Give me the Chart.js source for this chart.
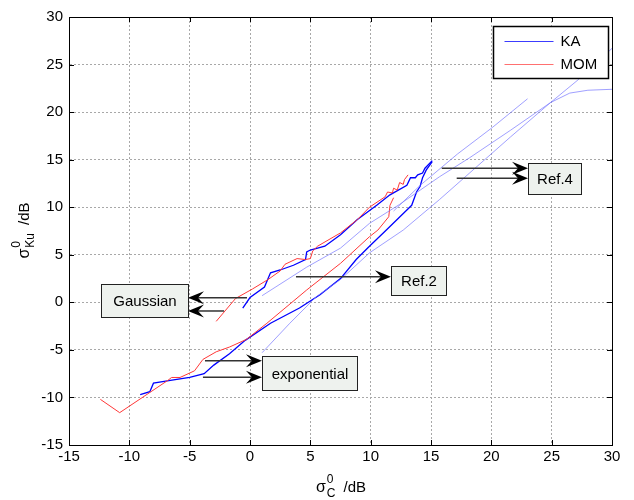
<!DOCTYPE html>
<html>
<head>
<meta charset="utf-8">
<script src="https://cdn.jsdelivr.net/npm/chart.js@4.4.0/dist/chart.umd.min.js"></script>
<style>
  html, body { margin: 0; padding: 0; background: #fff; }
  #wrap { width: 634px; height: 500px; }
</style>
</head>
<body>
<div id="wrap"><canvas id="chart" width="634" height="500"></canvas></div>
<script>
// σC vs σKu scatter comparison — KA / MOM curves with Ref.2 and Ref.4 reference lines

const FONT = "'Liberation Sans', Arial, sans-serif";

const X_TICKS = [-15, -10, -5, 0, 5, 10, 15, 20, 25, 30];
const Y_TICKS = [-15, -10, -5, 0, 5, 10, 15, 20, 25, 30];

// KA, Gaussian spectrum (dark blue, upper)
const kaGaussX = [-0.6, 0.0, 1.2, 1.7, 2.5, 3.6, 4.6, 4.7, 5.0, 6.2, 7.5, 8.9, 10.5, 11.6, 13.0, 13.3, 13.7, 13.9, 14.3, 14.5, 15.1];
const kaGaussY = [-0.6, 0.5, 1.6, 3.1, 3.4, 3.9, 4.5, 5.3, 5.5, 5.9, 7.1, 8.7, 10.2, 11.3, 12.3, 13.1, 13.1, 13.4, 13.6, 14.1, 14.9];

// KA, exponential spectrum (dark blue, lower)
const kaExpX = [-9.1, -8.3, -8.0, -6.6, -5.0, -3.8, -3.0, -1.7, -0.4, 1.7, 4.1, 5.8, 7.5, 8.8, 9.9, 11.3, 13.0, 13.4, 13.8, 14.1, 14.3, 14.6, 15.1];
const kaExpY = [-9.7, -9.4, -8.5, -8.2, -7.9, -7.5, -6.6, -5.4, -4.0, -2.2, -0.6, 0.8, 2.5, 4.5, 5.9, 7.6, 9.7, 10.2, 11.6, 12.2, 13.1, 13.9, 14.8];

// MOM, Gaussian spectrum (red, upper)
const momGaussX = [-2.8, -1.2, 0.2, 1.5, 2.5, 2.9, 3.9, 4.6, 5.0, 5.2, 5.6, 7.5, 8.9, 9.9, 11.2, 11.4, 11.8, 11.9, 12.2, 12.4, 12.7, 12.8, 13.1];
const momGaussY = [-2.0, 0.4, 1.4, 2.4, 3.3, 4.0, 4.6, 4.5, 4.6, 5.4, 5.9, 7.3, 8.7, 10.0, 11.1, 11.6, 11.5, 12.0, 11.8, 12.6, 12.4, 12.9, 13.4];

// MOM, exponential spectrum (red, lower)
const momExpX = [-12.4, -10.8, -6.8, -6.5, -5.8, -4.6, -3.9, -2.8, -1.7, -0.3, 1.4, 4.7, 7.5, 9.9, 10.6, 11.5, 11.6, 11.9];
const momExpY = [-10.2, -11.6, -8.2, -7.9, -7.9, -7.2, -6.0, -5.2, -4.7, -3.9, -2.2, 1.3, 4.1, 6.9, 7.6, 9.0, 10.2, 11.0];

// Reference curves (light blue)
const refAX = [1.0, 4.7, 7.5, 9.9, 12.4, 15.7, 18.2, 21.6, 24.9, 26.5, 28.0, 30.0];
const refAY = [0.7, 3.7, 5.7, 8.3, 10.3, 13.2, 15.2, 18.1, 21.0, 22.0, 22.3, 22.4];
const refBX = [1.0, 3.3, 5.5, 7.5, 9.9, 12.7, 15.7, 18.2, 21.6, 24.9, 27.1, 30.0];
const refBY = [-5.3, -2.2, 0.6, 2.4, 5.2, 7.6, 10.8, 13.6, 17.4, 21.0, 23.3, 26.7];
const refCX = [11.9, 14.1, 17.2, 20.1, 23.0];
const refCY = [9.6, 12.3, 15.6, 18.4, 21.4];

// Text boxes (data coords of corners) and arrows (from -> tip)
const BOXES = [
  { text: 'Gaussian',    x1: -12.35, x2: -5.14, y1: 1.93, y2: -1.54 },
  { text: 'exponential', x1: 0.99,   x2: 8.87,  y1: -5.64, y2: -9.22 },
  { text: 'Ref.2',       x1: 11.68,  x2: 16.24, y1: 3.82, y2: 0.77 },
  { text: 'Ref.4',       x1: 23.04,  x2: 27.43, y1: 14.65, y2: 11.39 }
];
const ARROWS = [
  { x0: -0.25, x1: -5.14, y: 0.49 },
  { x0: -2.15, x1: -5.14, y: -0.91 },
  { x0: -3.73, x1: 0.99,  y: -6.14 },
  { x0: -3.9,  x1: 0.99,  y: -7.88 },
  { x0: 3.81,  x1: 11.68, y: 2.69 },
  { x0: 15.89, x1: 23.04, y: 14.09 },
  { x0: 17.13, x1: 23.04, y: 13.04 }
];

// Legend entries as shown in the plot
const LEGEND_LABELS = ['KA', 'MOM'];
const LEGEND_COLORS = ['#3c3cff', '#ff7070'];

function toPoints(xs, ys) {
  return xs.map((x, i) => ({ x, y: ys[i] }));
}

function line(label, xs, ys, color, width) {
  return {
    label,
    data: toPoints(xs, ys),
    showLine: true,
    borderColor: color,
    backgroundColor: color,
    borderWidth: width,
    pointRadius: 0,
    tension: 0
  };
}

// Draws "σ" with superscript 0 and a subscript, followed by " /dB"
function drawSigma(ctx, sub, cx, cy, rotate) {
  ctx.save();
  ctx.translate(cx, cy);
  if (rotate) ctx.rotate(-Math.PI / 2);
  ctx.fillStyle = '#000';
  ctx.textAlign = 'left';
  ctx.textBaseline = 'alphabetic';
  ctx.font = `16px ${FONT}`;
  const wS = ctx.measureText('σ').width;
  ctx.font = `12px ${FONT}`;
  const wSub = Math.max(ctx.measureText(sub).width, ctx.measureText('0').width);
  ctx.font = `15px ${FONT}`;
  const wU = ctx.measureText('/dB').width;
  const gap = 8;
  const total = wS + wSub + gap + wU;
  let x = -total / 2;
  const base = 5;
  ctx.font = `16px ${FONT}`;
  ctx.fillText('σ', x, base);
  x += wS + 1;
  ctx.font = `12px ${FONT}`;
  ctx.fillText('0', x, base - 9);
  ctx.fillText(sub, x, base + 5);
  x += wSub + gap;
  ctx.font = `15px ${FONT}`;
  ctx.fillText('/dB', x, base);
  ctx.restore();
}

function drawArrow(ctx, x0, y0, x1, y1) {
  const ang = Math.atan2(y1 - y0, x1 - x0);
  const c = Math.cos(ang), s = Math.sin(ang);
  const len = 16, half = 6.5, notch = 10;
  ctx.strokeStyle = '#333';
  ctx.lineWidth = 1.5;
  ctx.beginPath();
  ctx.moveTo(x0, y0);
  ctx.lineTo(x1 - c * notch, y1 - s * notch);
  ctx.stroke();
  ctx.fillStyle = '#000';
  ctx.beginPath();
  ctx.moveTo(x1, y1);
  ctx.lineTo(x1 - c * len - s * half, y1 - s * len + c * half);
  ctx.lineTo(x1 - c * notch, y1 - s * notch);
  ctx.lineTo(x1 - c * len + s * half, y1 - s * len - c * half);
  ctx.closePath();
  ctx.fill();
}

const extras = {
  id: 'extras',
  afterDatasetsDraw(chart) {
    const { ctx, chartArea: a, scales: { x, y } } = chart;
    ctx.save();

    // frame on all four sides + inward ticks
    ctx.strokeStyle = '#000';
    ctx.lineWidth = 1;
    ctx.strokeRect(Math.round(a.left) + 0.5, Math.round(a.top) + 0.5, Math.round(a.width), Math.round(a.height));
    ctx.beginPath();
    X_TICKS.forEach(v => {
      const px = Math.round(x.getPixelForValue(v)) + 0.5;
      ctx.moveTo(px, a.bottom); ctx.lineTo(px, a.bottom - 5);
      ctx.moveTo(px, a.top); ctx.lineTo(px, a.top + 5);
    });
    Y_TICKS.forEach(v => {
      const py = Math.round(y.getPixelForValue(v)) + 0.5;
      ctx.moveTo(a.left, py); ctx.lineTo(a.left + 5, py);
      ctx.moveTo(a.right, py); ctx.lineTo(a.right - 5, py);
    });
    ctx.stroke();

    // arrows
    ARROWS.forEach(ar => {
      const py = y.getPixelForValue(ar.y);
      drawArrow(ctx, x.getPixelForValue(ar.x0), py, x.getPixelForValue(ar.x1), py);
    });

    // text boxes
    ctx.font = `15px ${FONT}`;
    ctx.textAlign = 'center';
    ctx.textBaseline = 'middle';
    BOXES.forEach(b => {
      const l = Math.round(x.getPixelForValue(b.x1)) + 0.5;
      const r = Math.round(x.getPixelForValue(b.x2)) + 0.5;
      const t = Math.round(y.getPixelForValue(b.y1)) + 0.5;
      const bt = Math.round(y.getPixelForValue(b.y2)) + 0.5;
      ctx.fillStyle = '#eef2ee';
      ctx.fillRect(l, t, r - l, bt - t);
      ctx.strokeStyle = '#222';
      ctx.lineWidth = 1;
      ctx.strokeRect(l, t, r - l, bt - t);
      ctx.fillStyle = '#000';
      ctx.fillText(b.text, (l + r) / 2, (t + bt) / 2 + 1);
    });

    // legend box (top right, inside axes)
    const lw = 115, lh = 52;
    const lx = Math.round(a.right - 119) + 0.5, ly = Math.round(a.top + 9) + 0.5;
    ctx.fillStyle = '#fff';
    ctx.fillRect(lx, ly, lw, lh);
    ctx.strokeStyle = '#000';
    ctx.lineWidth = 1.5;
    ctx.strokeRect(lx, ly, lw, lh);
    ctx.textAlign = 'left';
    LEGEND_LABELS.forEach((label, i) => {
      const yy = Math.round(ly + 14 + i * 23);
      ctx.strokeStyle = LEGEND_COLORS[i];
      ctx.lineWidth = 1;
      ctx.beginPath();
      ctx.moveTo(lx + 11, yy + 0.5);
      ctx.lineTo(lx + 60, yy + 0.5);
      ctx.stroke();
      ctx.fillStyle = '#000';
      ctx.fillText(label, lx + 67, yy + 1);
    });

    // axis titles
    drawSigma(ctx, 'C', (a.left + a.right) / 2, 487, false);
    drawSigma(ctx, 'Ku', 24, (a.top + a.bottom) / 2, true);

    ctx.restore();
  }
};

const LIGHT = 'rgba(120,120,255,0.7)';

new Chart(document.getElementById('chart'), {
  type: 'scatter',
  data: {
    datasets: [
      line('Ref A', refAX, refAY, LIGHT, 1),
      line('Ref B', refBX, refBY, LIGHT, 1),
      line('Ref C', refCX, refCY, LIGHT, 1),
      line('MOM Gaussian', momGaussX, momGaussY, '#ff3838', 1),
      line('MOM', momExpX, momExpY, '#ff3838', 1),
      line('KA Gaussian', kaGaussX, kaGaussY, '#0000ff', 1.3),
      line('KA', kaExpX, kaExpY, '#0000ff', 1.3)
    ]
  },
  options: {
    responsive: false,
    animation: false,
    devicePixelRatio: 1,
    layout: { padding: { left: 0, right: 22, top: 17, bottom: 0 } },
    plugins: { legend: { display: false }, tooltip: { enabled: false } },
    scales: {
      x: {
        type: 'linear',
        min: -15, max: 30,
        afterBuildTicks: s => { s.ticks = X_TICKS.map(v => ({ value: v })); },
        afterFit: s => { s.height = 55; },
        ticks: { color: '#000', font: { family: FONT, size: 15 }, padding: 3, maxRotation: 0 },
        grid: { color: '#a8a8a8', lineWidth: 1, drawTicks: false },
        border: { display: true, color: '#000', dash: [2, 2] }
      },
      y: {
        type: 'linear',
        min: -15, max: 30,
        afterBuildTicks: s => { s.ticks = Y_TICKS.map(v => ({ value: v })); },
        afterFit: s => { s.width = 69; },
        ticks: { color: '#000', font: { family: FONT, size: 15 }, padding: 6 },
        grid: { color: '#a8a8a8', lineWidth: 1, drawTicks: false },
        border: { display: true, color: '#000', dash: [2, 2] }
      }
    }
  },
  plugins: [extras]
});
</script>
</body>
</html>
